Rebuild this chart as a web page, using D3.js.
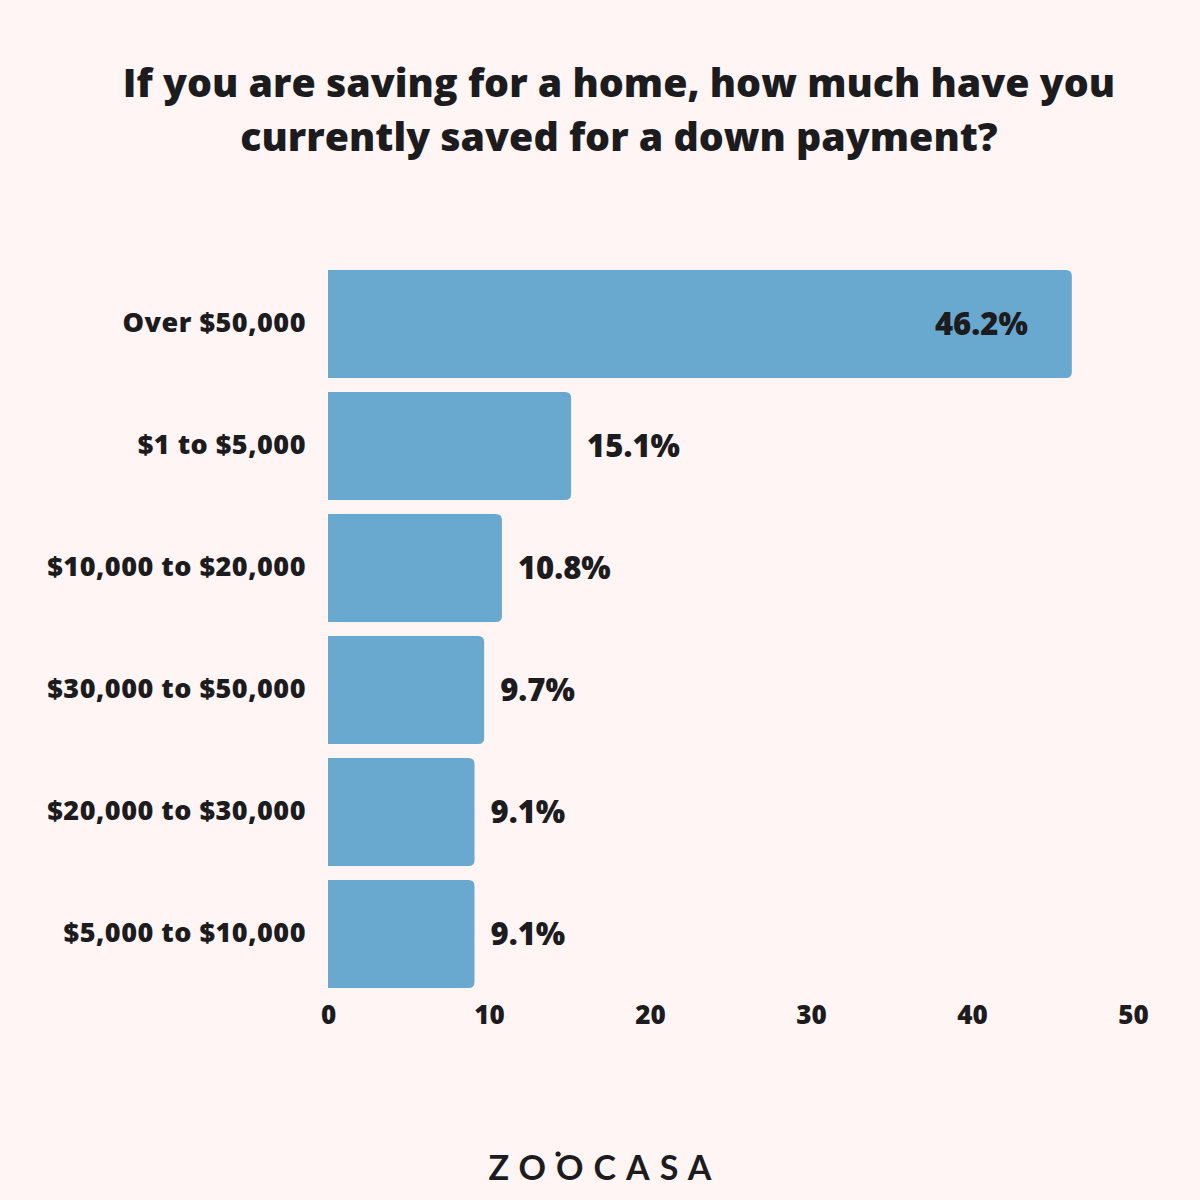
<!DOCTYPE html>
<html><head><meta charset="utf-8">
<script src="https://cdn.jsdelivr.net/npm/d3@7"></script>
<style>body{margin:0;background:#fff5f5;}</style>
</head><body>
<script>
const categories = ["Over $50,000","$1 to $5,000","$10,000 to $20,000","$30,000 to $50,000","$20,000 to $30,000","$5,000 to $10,000"];
const values = [46.2,15.1,10.8,9.7,9.1,9.1];
const tickValues = [0,10,20,30,40,50];
const titleLines = ["If you are saving for a home, how much have you","currently saved for a down payment?"];

const W=1200,H=1200;
const svg=d3.select("body").append("svg").attr("width",W).attr("height",H);
svg.append("rect").attr("width",W).attr("height",H).attr("fill","#fff5f5");
const ink="#1c1c1f", barColor="#69a8cf", font="'Open Sans', sans-serif";

svg.selectAll("text.title").data(titleLines).join("text").attr("class","title")
  .attr("x",619).attr("y",(d,i)=>97+i*54).attr("text-anchor","middle")
  .attr("font-family",font).attr("font-weight",800).attr("font-size",39.3).attr("fill",ink).text(d=>d);

const x=d3.scaleLinear().domain([0,50]).range([328,1133]);
const y=d3.scaleBand().domain(categories).range([270,988]).paddingInner(14/122).paddingOuter(0);

const r=6;
svg.selectAll("path.bar").data(categories).join("path").attr("class","bar")
  .attr("fill",barColor)
  .attr("d",(c,i)=>{
    const x0=x(0),x1=x(values[i]),y0=y(c),h=y.bandwidth();
    return `M${x0},${y0}H${x1-r}Q${x1},${y0} ${x1},${y0+r}V${y0+h-r}Q${x1},${y0+h} ${x1-r},${y0+h}H${x0}Z`;
  });

svg.selectAll("text.val").data(categories).join("text").attr("class","val")
  .attr("x",(c,i)=> values[i]>40 ? x(values[i])-44 : x(values[i])+16)
  .attr("text-anchor",(c,i)=> values[i]>40 ? "end":"start")
  .attr("y",c=>y(c)+y.bandwidth()/2+11)
  .attr("font-family",font).attr("font-weight",800).attr("font-size",31).attr("fill",ink)
  .text((c,i)=>values[i].toFixed(1)+"%");

svg.selectAll("text.cat").data(categories).join("text").attr("class","cat")
  .attr("x",306).attr("y",c=>y(c)+y.bandwidth()/2+8).attr("text-anchor","end")
  .attr("font-family",font).attr("font-weight",800).attr("font-size",27).attr("letter-spacing",0.5)
  .attr("fill",ink).text(c=>c);

const axis=svg.append("g").attr("transform","translate(0,988)")
  .call(d3.axisBottom(x).tickValues(tickValues).tickSize(0).tickPadding(18).tickFormat(d3.format("d")));
axis.select(".domain").remove();
axis.selectAll("text").attr("font-family",font).attr("font-weight",800).attr("font-size",26).attr("fill",ink);

const logo=svg.append("text").attr("x",605).attr("y",1180).attr("text-anchor","middle")
  .attr("font-family","Lato, sans-serif").attr("font-weight",700).attr("font-size",34)
  .attr("letter-spacing",10).attr("fill",ink).text("ZOOCASA");
const p=logo.node().getStartPositionOfChar(2);
svg.append("circle").attr("cx",p.x+2).attr("cy",1154).attr("r",2.6).attr("fill",ink);
</script>
</body></html>
